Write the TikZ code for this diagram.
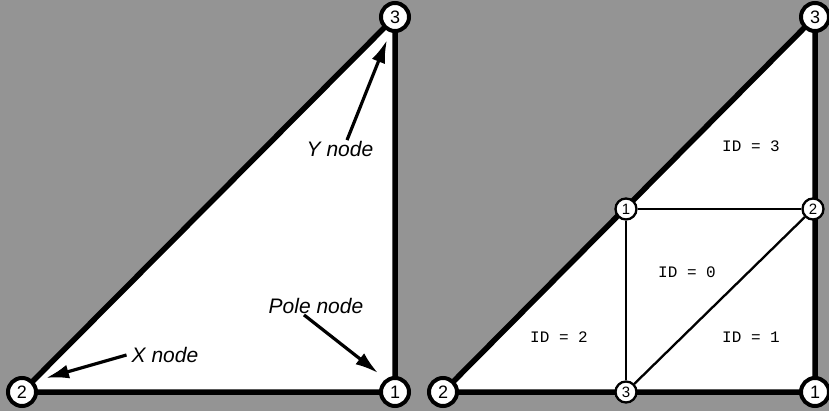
\documentclass[tikz,border=0pt]{standalone}
\usepackage{fontspec}
\setmainfont{Liberation Sans}
\setmonofont{Liberation Mono}
\usetikzlibrary{arrows.meta}
\pgfdeclarelayer{bg}
\pgfsetlayers{bg,main}
\definecolor{bggray}{RGB}{148,148,148}
\begin{document}
\begin{tikzpicture}[x=1pt,y=-1pt,
  bignode/.style={circle,draw=black,fill=white,line width=4pt,minimum size=28pt,inner sep=0pt,font=\fontsize{18}{18}\selectfont},
  smallnode/.style={circle,draw=black,fill=white,line width=2.3pt,minimum size=21pt,inner sep=0pt,font=\fontsize{15}{15}\selectfont},
  outeredge/.style={line width=5.5pt,line cap=round},
  inneredge/.style={line width=2.3pt},
  lbl/.style={font=\fontsize{21}{21}\selectfont\itshape,inner sep=1pt},
  idlbl/.style={font=\fontsize{16}{16}\selectfont\ttfamily,inner sep=0pt},
  ptr/.style={line width=3.2pt,-{Latex[length=23pt,width=14pt]}}]
\useasboundingbox (0,0) rectangle (829,411);
% left triangle nodes
\node[bignode] (L2) at (22,392) {2};
\node[bignode] (L1) at (395,392) {1};
\node[bignode] (L3) at (395,17) {3};
% right triangle nodes
\node[bignode] (R2) at (443,392) {2};
\node[bignode] (R1) at (815,392) {1};
\node[bignode] (R3) at (815,17) {3};
\node[smallnode] (I1) at (626,209) {1};
\node[smallnode] (I2) at (813,209) {2};
\node[smallnode] (I3) at (626,392) {3};
\begin{pgfonlayer}{bg}
  \fill[bggray] (0,0) rectangle (829,411);
  \fill[white] (L2.center) -- (L1.center) -- (L3.center) -- cycle;
  \fill[white] (R2.center) -- (R1.center) -- (R3.center) -- cycle;
  \draw[outeredge] (L2.center) -- (L1.center) -- (L3.center) -- cycle;
  \draw[outeredge] (R2.center) -- (R1.center) -- (R3.center) -- cycle;
  \draw[inneredge] (I1) -- (I2);
  \draw[inneredge] (I1) -- (I3);
  \draw[inneredge] (I3) -- (I2);
\end{pgfonlayer}
% labels left
\node[lbl] (Ylab) at (340,149) {Y node};
\node[lbl] (Plab) at (316,306) {Pole node};
\node[lbl] (Xlab) at (165,355) {X node};
\coordinate (Ytip) at (387,40);
\coordinate (Ptip) at (378,373);
\coordinate (Xtip) at (46,378);
\draw[ptr] ([xshift=7pt]Ylab.north) -- (Ytip);
\draw[ptr] ([xshift=-12pt]Plab.south) -- (Ptip);
\draw[ptr] ([xshift=-4pt]Xlab.west) -- (Xtip);
% ID labels
\node[idlbl] (id3) at (751,146) {ID = 3};
\node[idlbl] (id0) at (687,272) {ID = 0};
\node[idlbl] (id2) at (559,337) {ID = 2};
\node[idlbl] (id1) at (751,337) {ID = 1};
\end{tikzpicture}
\end{document}
